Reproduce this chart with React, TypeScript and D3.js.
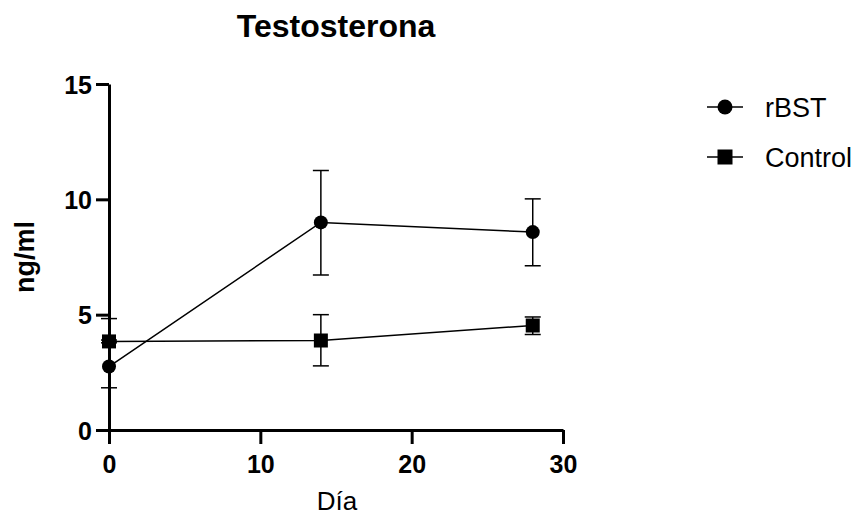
import React, { useEffect, useRef } from 'react';
import * as d3 from 'd3';

const days = [0, 14, 28];
const rbstMean = [2.75, 9.0, 8.58];
const rbstUpper = [4.83, 11.25, 10.02];
const rbstLower = [1.83, 6.72, 7.12];
const controlMean = [3.84, 3.88, 4.53];
const controlUpper = [3.9, 5.0, 4.9];
const controlLower = [3.78, 2.78, 4.14];
const xTicks = [0, 10, 20, 30];
const yTicks = [0, 5, 10, 15];

const FONT = '"Liberation Sans", Arial, Helvetica, sans-serif';

const App = () => {
  const svgRef = useRef<SVGSVGElement>(null);

  useEffect(() => {
    const width = 856;
    const height = 518;
    const svg = d3.select(svgRef.current).attr('width', width).attr('height', height);
    svg.selectAll('*').remove();

    const x = d3.scaleLinear().domain([0, 30]).range([109, 563]);
    const y = d3.scaleLinear().domain([0, 15]).range([430, 84]);

    // axes
    const xAxis = svg.append('g')
      .attr('transform', `translate(0,${y(0)})`)
      .call(d3.axisBottom(x).tickValues(xTicks).tickSize(14).tickSizeOuter(0).tickPadding(11));
    const yAxis = svg.append('g')
      .attr('transform', `translate(${x(0)},0)`)
      .call(d3.axisLeft(y).tickValues(yTicks).tickSize(13).tickSizeOuter(0).tickPadding(4));

    [xAxis, yAxis].forEach(a => {
      a.select('.domain').attr('stroke', '#000').attr('stroke-width', 3);
      a.selectAll('.tick line').attr('stroke', '#000').attr('stroke-width', 3);
      a.selectAll('.tick text')
        .attr('fill', '#000')
        .style('font-family', FONT)
        .style('font-size', '25px')
        .style('font-weight', 'bold');
    });
    yAxis.selectAll('.tick text').attr('dy', '0.36em');

    const series = [
      { name: 'rBST', mean: rbstMean, upper: rbstUpper, lower: rbstLower, shape: 'circle' },
      { name: 'Control', mean: controlMean, upper: controlUpper, lower: controlLower, shape: 'square' },
    ];

    const line = d3.line<number>().x((_, i) => x(days[i])).y(d => y(d));

    series.forEach(s => {
      const g = svg.append('g');
      // error bars
      days.forEach((d, i) => {
        const cx = x(d);
        g.append('line').attr('x1', cx).attr('x2', cx)
          .attr('y1', y(s.upper[i])).attr('y2', y(s.lower[i]))
          .attr('stroke', '#000').attr('stroke-width', 1.5);
        [s.upper[i], s.lower[i]].forEach(v => {
          g.append('line').attr('x1', cx - 8).attr('x2', cx + 8)
            .attr('y1', y(v)).attr('y2', y(v))
            .attr('stroke', '#000').attr('stroke-width', 1.5);
        });
      });
      g.append('path').attr('d', line(s.mean))
        .attr('fill', 'none').attr('stroke', '#000').attr('stroke-width', 1.5);
      days.forEach((d, i) => {
        if (s.shape === 'circle') {
          g.append('circle').attr('cx', x(d)).attr('cy', y(s.mean[i])).attr('r', 7).attr('fill', '#000');
        } else {
          g.append('rect').attr('x', x(d) - 7).attr('y', y(s.mean[i]) - 7)
            .attr('width', 14).attr('height', 14).attr('fill', '#000');
        }
      });
    });

    // title and labels
    svg.append('text').attr('x', 336).attr('y', 37).attr('text-anchor', 'middle')
      .style('font-family', FONT).style('font-size', '32px').style('font-weight', 'bold')
      .text('Testosterona');
    svg.append('text').attr('x', 337).attr('y', 510).attr('text-anchor', 'middle')
      .style('font-family', FONT).style('font-size', '26px')
      .text('Día');
    svg.append('text').attr('transform', `translate(34,257) rotate(-90)`).attr('text-anchor', 'middle')
      .style('font-family', FONT).style('font-size', '27px').style('font-weight', 'bold')
      .text('ng/ml');

    // legend
    series.forEach((s, i) => {
      const ly = 107 + i * 50;
      const lg = svg.append('g');
      lg.append('line').attr('x1', 707).attr('x2', 743).attr('y1', ly).attr('y2', ly)
        .attr('stroke', '#000').attr('stroke-width', 1.5);
      if (s.shape === 'circle') {
        lg.append('circle').attr('cx', 725).attr('cy', ly).attr('r', 7.5).attr('fill', '#000');
      } else {
        lg.append('rect').attr('x', 717.5).attr('y', ly - 7.5).attr('width', 15).attr('height', 15).attr('fill', '#000');
      }
      lg.append('text').attr('x', 765).attr('y', ly).attr('dy', '0.36em')
        .style('font-family', FONT).style('font-size', '27px')
        .text(s.name);
    });
  }, []);

  return <svg ref={svgRef} style={{ position: 'absolute', left: 0, top: 0, display: 'block' }}></svg>;
};

export default App;
